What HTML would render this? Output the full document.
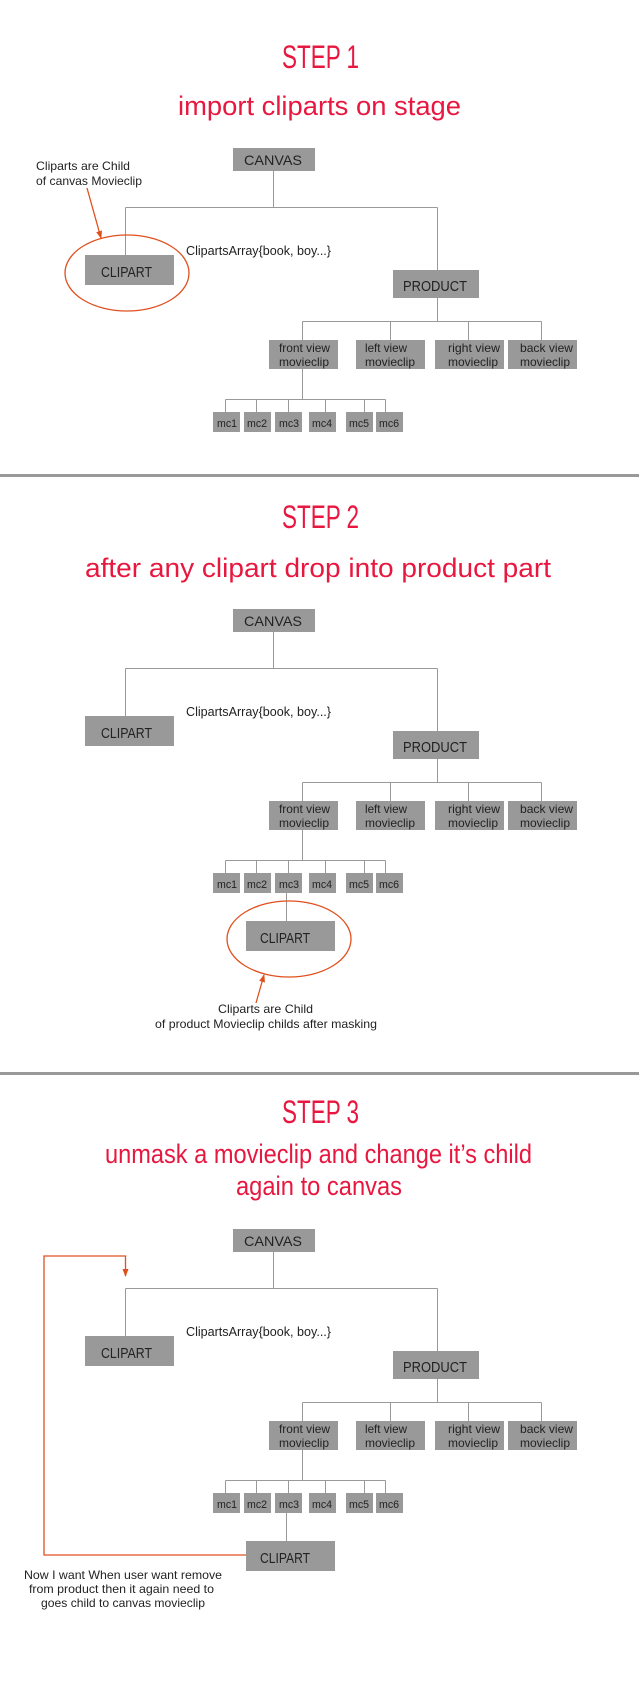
<!DOCTYPE html>
<html><head><meta charset="utf-8"><style>
html,body{margin:0;padding:0;background:#fff;}
svg{display:block;}
text{font-family:"Liberation Sans",sans-serif;}
.t{fill:#e8173f;}
.b{fill:#999;}
.l{stroke:#999;stroke-width:1;fill:none;}
.k{fill:#222;}
.o{stroke:#e0501e;stroke-width:1.3;fill:none;}
</style></head><body>
<svg width="639" height="1692" viewBox="0 0 639 1692" xmlns="http://www.w3.org/2000/svg">
<defs>
<marker id="ah" markerWidth="8" markerHeight="8" refX="7" refY="4" orient="auto" markerUnits="userSpaceOnUse">
<path d="M0,1 L8,4 L0,7 Z" fill="#e0501e"/></marker>
</defs>

<text class="t" x="282" y="68" font-size="32" textLength="77" lengthAdjust="spacingAndGlyphs">STEP 1</text>
<text class="t" x="178" y="115" font-size="27" textLength="283" lengthAdjust="spacingAndGlyphs">import cliparts on stage</text>

<g transform="translate(0,0)">
<path class="l" d="M273.5,171 V207.5 M125.5,207.5 H437.5 M125.5,207.5 V255 M437.5,207.5 V270 M437.5,298 V321.5 M302.5,321.5 H541.5 M302.5,321.5 V340 M390.5,321.5 V340 M468.5,321.5 V340 M541.5,321.5 V340 M302.5,369 V399.5 M225.5,399.5 H385.5 M225.5,399.5 V412 M256.5,399.5 V412 M288.5,399.5 V412 M325.5,399.5 V412 M364.5,399.5 V412 M385.5,399.5 V412"/>
<rect class="b" x="233" y="148" width="82" height="23"/><text class="k" x="244" y="165" font-size="14" textLength="58" lengthAdjust="spacingAndGlyphs">CANVAS</text>
<rect class="b" x="85" y="255" width="89" height="30"/><text class="k" x="101" y="277" font-size="15" textLength="51" lengthAdjust="spacingAndGlyphs">CLIPART</text>
<text class="k" x="186" y="255" font-size="13" textLength="145" lengthAdjust="spacingAndGlyphs">ClipartsArray{book, boy...}</text>
<rect class="b" x="393" y="270" width="86" height="28"/><text class="k" x="403" y="291" font-size="15" textLength="64" lengthAdjust="spacingAndGlyphs">PRODUCT</text>
<rect class="b" x="269" y="340" width="69" height="29"/><text class="k" font-size="12"><tspan x="279" y="352" textLength="51" lengthAdjust="spacingAndGlyphs">front view</tspan><tspan x="279" y="366" textLength="50" lengthAdjust="spacingAndGlyphs">movieclip</tspan></text>
<rect class="b" x="356" y="340" width="69" height="29"/><text class="k" font-size="12"><tspan x="365" y="352" textLength="42" lengthAdjust="spacingAndGlyphs">left view</tspan><tspan x="365" y="366" textLength="50" lengthAdjust="spacingAndGlyphs">movieclip</tspan></text>
<rect class="b" x="435" y="340" width="69" height="29"/><text class="k" font-size="12"><tspan x="448" y="352" textLength="52" lengthAdjust="spacingAndGlyphs">right view</tspan><tspan x="448" y="366" textLength="50" lengthAdjust="spacingAndGlyphs">movieclip</tspan></text>
<rect class="b" x="508" y="340" width="69" height="29"/><text class="k" font-size="12"><tspan x="520" y="352" textLength="53" lengthAdjust="spacingAndGlyphs">back view</tspan><tspan x="520" y="366" textLength="50" lengthAdjust="spacingAndGlyphs">movieclip</tspan></text>
<g font-size="11" class="k">
<rect class="b" x="213" y="412" width="27" height="20"/><text x="217" y="427" textLength="20" lengthAdjust="spacingAndGlyphs">mc1</text>
<rect class="b" x="244" y="412" width="27" height="20"/><text x="247" y="427" textLength="20" lengthAdjust="spacingAndGlyphs">mc2</text>
<rect class="b" x="275" y="412" width="27" height="20"/><text x="279" y="427" textLength="20" lengthAdjust="spacingAndGlyphs">mc3</text>
<rect class="b" x="309" y="412" width="27" height="20"/><text x="312" y="427" textLength="20" lengthAdjust="spacingAndGlyphs">mc4</text>
<rect class="b" x="346" y="412" width="27" height="20"/><text x="349" y="427" textLength="20" lengthAdjust="spacingAndGlyphs">mc5</text>
<rect class="b" x="376" y="412" width="27" height="20"/><text x="379" y="427" textLength="20" lengthAdjust="spacingAndGlyphs">mc6</text>
</g>
</g>
<ellipse class="o" cx="127" cy="273" rx="62" ry="38"/>
<text class="k" font-size="12"><tspan x="36" y="170" textLength="94" lengthAdjust="spacingAndGlyphs">Cliparts are Child</tspan><tspan x="36" y="185" textLength="106" lengthAdjust="spacingAndGlyphs">of canvas Movieclip</tspan></text>
<line class="o" x1="87" y1="188" x2="101" y2="238" marker-end="url(#ah)"/>

<rect x="0" y="474" width="639" height="3" fill="#999"/>

<text class="t" x="282" y="528" font-size="32" textLength="77" lengthAdjust="spacingAndGlyphs">STEP 2</text>
<text class="t" x="85" y="577" font-size="27" textLength="466" lengthAdjust="spacingAndGlyphs">after any clipart drop into product part</text>
<g transform="translate(0,461)">
<path class="l" d="M273.5,171 V207.5 M125.5,207.5 H437.5 M125.5,207.5 V255 M437.5,207.5 V270 M437.5,298 V321.5 M302.5,321.5 H541.5 M302.5,321.5 V340 M390.5,321.5 V340 M468.5,321.5 V340 M541.5,321.5 V340 M302.5,369 V399.5 M225.5,399.5 H385.5 M225.5,399.5 V412 M256.5,399.5 V412 M288.5,399.5 V412 M325.5,399.5 V412 M364.5,399.5 V412 M385.5,399.5 V412 M286.5,432 V460"/>
<rect class="b" x="233" y="148" width="82" height="23"/><text class="k" x="244" y="165" font-size="14" textLength="58" lengthAdjust="spacingAndGlyphs">CANVAS</text>
<rect class="b" x="85" y="255" width="89" height="30"/><text class="k" x="101" y="277" font-size="15" textLength="51" lengthAdjust="spacingAndGlyphs">CLIPART</text>
<text class="k" x="186" y="255" font-size="13" textLength="145" lengthAdjust="spacingAndGlyphs">ClipartsArray{book, boy...}</text>
<rect class="b" x="393" y="270" width="86" height="28"/><text class="k" x="403" y="291" font-size="15" textLength="64" lengthAdjust="spacingAndGlyphs">PRODUCT</text>
<rect class="b" x="269" y="340" width="69" height="29"/><text class="k" font-size="12"><tspan x="279" y="352" textLength="51" lengthAdjust="spacingAndGlyphs">front view</tspan><tspan x="279" y="366" textLength="50" lengthAdjust="spacingAndGlyphs">movieclip</tspan></text>
<rect class="b" x="356" y="340" width="69" height="29"/><text class="k" font-size="12"><tspan x="365" y="352" textLength="42" lengthAdjust="spacingAndGlyphs">left view</tspan><tspan x="365" y="366" textLength="50" lengthAdjust="spacingAndGlyphs">movieclip</tspan></text>
<rect class="b" x="435" y="340" width="69" height="29"/><text class="k" font-size="12"><tspan x="448" y="352" textLength="52" lengthAdjust="spacingAndGlyphs">right view</tspan><tspan x="448" y="366" textLength="50" lengthAdjust="spacingAndGlyphs">movieclip</tspan></text>
<rect class="b" x="508" y="340" width="69" height="29"/><text class="k" font-size="12"><tspan x="520" y="352" textLength="53" lengthAdjust="spacingAndGlyphs">back view</tspan><tspan x="520" y="366" textLength="50" lengthAdjust="spacingAndGlyphs">movieclip</tspan></text>
<g font-size="11" class="k">
<rect class="b" x="213" y="412" width="27" height="20"/><text x="217" y="427" textLength="20" lengthAdjust="spacingAndGlyphs">mc1</text>
<rect class="b" x="244" y="412" width="27" height="20"/><text x="247" y="427" textLength="20" lengthAdjust="spacingAndGlyphs">mc2</text>
<rect class="b" x="275" y="412" width="27" height="20"/><text x="279" y="427" textLength="20" lengthAdjust="spacingAndGlyphs">mc3</text>
<rect class="b" x="309" y="412" width="27" height="20"/><text x="312" y="427" textLength="20" lengthAdjust="spacingAndGlyphs">mc4</text>
<rect class="b" x="346" y="412" width="27" height="20"/><text x="349" y="427" textLength="20" lengthAdjust="spacingAndGlyphs">mc5</text>
<rect class="b" x="376" y="412" width="27" height="20"/><text x="379" y="427" textLength="20" lengthAdjust="spacingAndGlyphs">mc6</text>
</g>
<rect class="b" x="246" y="460" width="89" height="30"/><text class="k" x="260" y="482" font-size="15" textLength="50" lengthAdjust="spacingAndGlyphs">CLIPART</text>
</g>
<ellipse class="o" cx="289" cy="939" rx="62" ry="38"/>
<line class="o" x1="256" y1="1003" x2="264" y2="975" marker-end="url(#ah)"/>
<text class="k" font-size="12"><tspan x="218" y="1013" textLength="95" lengthAdjust="spacingAndGlyphs">Cliparts are Child</tspan><tspan x="155" y="1028" textLength="222" lengthAdjust="spacingAndGlyphs">of product Movieclip childs after masking</tspan></text>

<rect x="0" y="1072" width="639" height="3" fill="#999"/>

<text class="t" x="282" y="1123" font-size="32" textLength="77" lengthAdjust="spacingAndGlyphs">STEP 3</text>
<text class="t" x="105" y="1163" font-size="27" textLength="427" lengthAdjust="spacingAndGlyphs">unmask a movieclip and change it’s child</text>
<text class="t" x="236" y="1195" font-size="27" textLength="166" lengthAdjust="spacingAndGlyphs">again to canvas</text>
<g transform="translate(0,1081)">
<path class="l" d="M273.5,171 V207.5 M125.5,207.5 H437.5 M125.5,207.5 V255 M437.5,207.5 V270 M437.5,298 V321.5 M302.5,321.5 H541.5 M302.5,321.5 V340 M390.5,321.5 V340 M468.5,321.5 V340 M541.5,321.5 V340 M302.5,369 V399.5 M225.5,399.5 H385.5 M225.5,399.5 V412 M256.5,399.5 V412 M288.5,399.5 V412 M325.5,399.5 V412 M364.5,399.5 V412 M385.5,399.5 V412 M286.5,432 V460"/>
<rect class="b" x="233" y="148" width="82" height="23"/><text class="k" x="244" y="165" font-size="14" textLength="58" lengthAdjust="spacingAndGlyphs">CANVAS</text>
<rect class="b" x="85" y="255" width="89" height="30"/><text class="k" x="101" y="277" font-size="15" textLength="51" lengthAdjust="spacingAndGlyphs">CLIPART</text>
<text class="k" x="186" y="255" font-size="13" textLength="145" lengthAdjust="spacingAndGlyphs">ClipartsArray{book, boy...}</text>
<rect class="b" x="393" y="270" width="86" height="28"/><text class="k" x="403" y="291" font-size="15" textLength="64" lengthAdjust="spacingAndGlyphs">PRODUCT</text>
<rect class="b" x="269" y="340" width="69" height="29"/><text class="k" font-size="12"><tspan x="279" y="352" textLength="51" lengthAdjust="spacingAndGlyphs">front view</tspan><tspan x="279" y="366" textLength="50" lengthAdjust="spacingAndGlyphs">movieclip</tspan></text>
<rect class="b" x="356" y="340" width="69" height="29"/><text class="k" font-size="12"><tspan x="365" y="352" textLength="42" lengthAdjust="spacingAndGlyphs">left view</tspan><tspan x="365" y="366" textLength="50" lengthAdjust="spacingAndGlyphs">movieclip</tspan></text>
<rect class="b" x="435" y="340" width="69" height="29"/><text class="k" font-size="12"><tspan x="448" y="352" textLength="52" lengthAdjust="spacingAndGlyphs">right view</tspan><tspan x="448" y="366" textLength="50" lengthAdjust="spacingAndGlyphs">movieclip</tspan></text>
<rect class="b" x="508" y="340" width="69" height="29"/><text class="k" font-size="12"><tspan x="520" y="352" textLength="53" lengthAdjust="spacingAndGlyphs">back view</tspan><tspan x="520" y="366" textLength="50" lengthAdjust="spacingAndGlyphs">movieclip</tspan></text>
<g font-size="11" class="k">
<rect class="b" x="213" y="412" width="27" height="20"/><text x="217" y="427" textLength="20" lengthAdjust="spacingAndGlyphs">mc1</text>
<rect class="b" x="244" y="412" width="27" height="20"/><text x="247" y="427" textLength="20" lengthAdjust="spacingAndGlyphs">mc2</text>
<rect class="b" x="275" y="412" width="27" height="20"/><text x="279" y="427" textLength="20" lengthAdjust="spacingAndGlyphs">mc3</text>
<rect class="b" x="309" y="412" width="27" height="20"/><text x="312" y="427" textLength="20" lengthAdjust="spacingAndGlyphs">mc4</text>
<rect class="b" x="346" y="412" width="27" height="20"/><text x="349" y="427" textLength="20" lengthAdjust="spacingAndGlyphs">mc5</text>
<rect class="b" x="376" y="412" width="27" height="20"/><text x="379" y="427" textLength="20" lengthAdjust="spacingAndGlyphs">mc6</text>
</g>
<rect class="b" x="246" y="460" width="89" height="30"/><text class="k" x="260" y="482" font-size="15" textLength="50" lengthAdjust="spacingAndGlyphs">CLIPART</text>
</g>
<path class="o" d="M246,1555 H44 V1256 H125.5 V1276" marker-end="url(#ah)"/>
<text class="k" font-size="12"><tspan x="24" y="1579" textLength="198" lengthAdjust="spacingAndGlyphs">Now I want When user want remove</tspan><tspan x="29" y="1593" textLength="185" lengthAdjust="spacingAndGlyphs">from product then it again need to</tspan><tspan x="41" y="1607" textLength="164" lengthAdjust="spacingAndGlyphs">goes child to canvas movieclip</tspan></text>
</svg>
</body></html>
